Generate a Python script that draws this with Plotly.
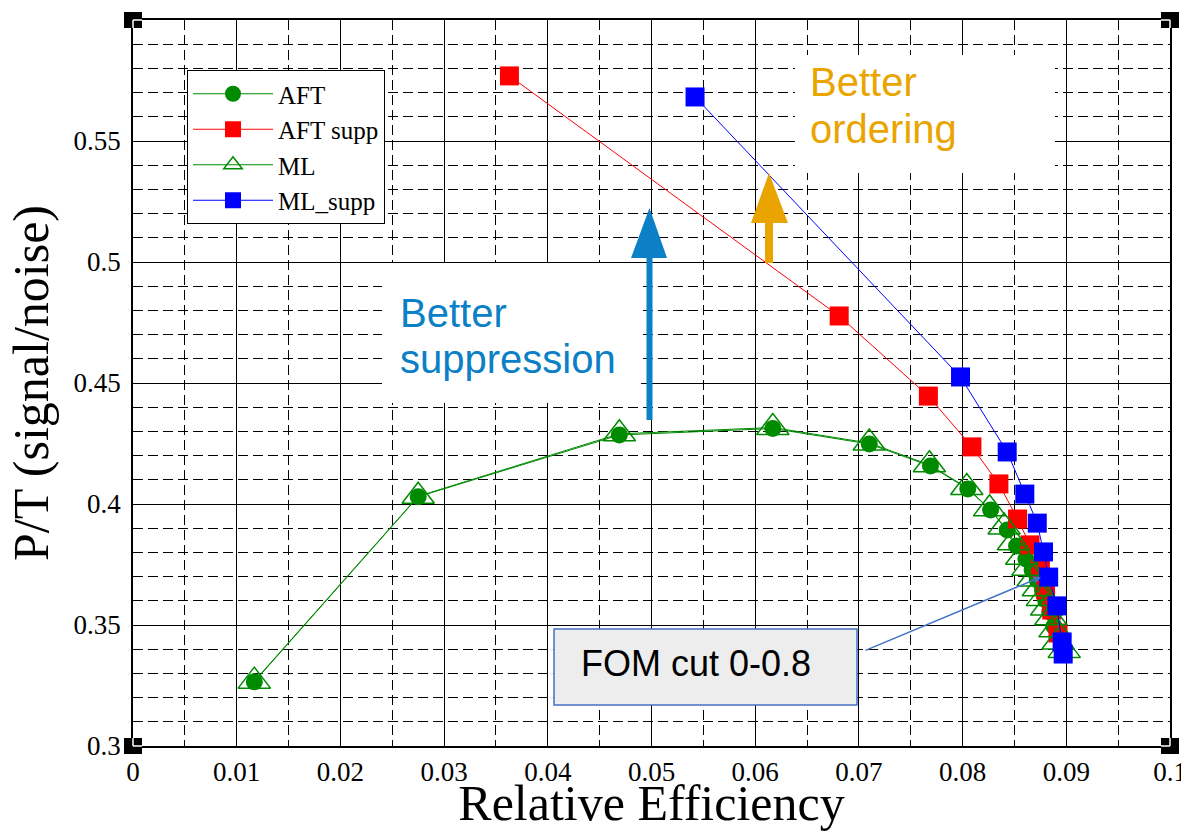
import plotly.graph_objects as go

# ---------------- data ----------------
aft_x = [0.0117, 0.0275, 0.0469, 0.0617, 0.0710, 0.0769, 0.0805, 0.0827, 0.0843,
         0.0852, 0.0861, 0.0867, 0.0872, 0.0877, 0.0880, 0.0884, 0.0888]
aft_y = [0.3265, 0.4030, 0.4285, 0.4312, 0.4248, 0.4157, 0.4062, 0.3975, 0.3893,
         0.3826, 0.3773, 0.3727, 0.3686, 0.3645, 0.3603, 0.3554, 0.3495]

aftsupp_x = [0.0363, 0.0681, 0.0767, 0.0809, 0.0835, 0.0853, 0.0865, 0.0875,
             0.0880, 0.0886, 0.0892]
aftsupp_y = [0.5769, 0.4777, 0.4446, 0.4236, 0.4083, 0.3938, 0.3831, 0.3736,
             0.3645, 0.3562, 0.3467]

ml_x = [0.0117, 0.0275, 0.0469, 0.0617, 0.0710, 0.0768, 0.0804, 0.0826, 0.0840,
        0.0849, 0.0857, 0.0863, 0.0868, 0.0873, 0.0877, 0.0881, 0.0885, 0.0889,
        0.0892, 0.0898]
ml_y = [0.3268, 0.4032, 0.4290, 0.4316, 0.4252, 0.4162, 0.4068, 0.3980, 0.3905,
        0.3840, 0.3780, 0.3735, 0.3690, 0.3650, 0.3610, 0.3570, 0.3530, 0.3480,
        0.3430, 0.3395]

mlsupp_x = [0.0542, 0.0798, 0.0843, 0.0860, 0.0872, 0.0878, 0.0883, 0.0891,
            0.0896, 0.0897]
mlsupp_y = [0.5682, 0.4525, 0.4215, 0.4041, 0.3921, 0.3802, 0.3698, 0.3579,
            0.3430, 0.3380]

x_ticks = [0.0, 0.01, 0.02, 0.03, 0.04, 0.05, 0.06, 0.07, 0.08, 0.09, 0.1]
x_ticktext = ["0", "0.01", "0.02", "0.03", "0.04", "0.05", "0.06", "0.07", "0.08", "0.09", "0.1"]
y_ticks = [0.3, 0.35, 0.4, 0.45, 0.5, 0.55, 0.6]
y_ticktext = ["0.3", "0.35", "0.4", "0.45", "0.5", "0.55", ""]

# ---------------- layout geometry ----------------
W, H = 1181, 831
ML_, MR_, MT_, MB_ = 133, 11, 20, 85
X0, X1 = 0.0, 0.1
Y0, Y1 = 0.3, 0.6
PW = W - ML_ - MR_
PH = H - MT_ - MB_


def dx(px):
    return X0 + (px - ML_) / PW * (X1 - X0)


def dy(py):
    return Y0 + (H - MB_ - py) / PH * (Y1 - Y0)


GREEN = "#008A00"
RED = "#FF0000"
BLUE = "#0000FF"
ORANGE = "#EAA400"
SKY = "#0B80C6"
SERIF = "Liberation Serif, Times New Roman, serif"
SANS = "Liberation Sans, Arial, sans-serif"

fig = go.Figure()
fig.add_trace(go.Scatter(x=aft_x, y=aft_y, mode="lines+markers", name="AFT",
                         line=dict(color=GREEN, width=1),
                         marker=dict(symbol="circle", size=17, color=GREEN)))
fig.add_trace(go.Scatter(x=aftsupp_x, y=aftsupp_y, mode="lines+markers", name="AFT supp",
                         line=dict(color=RED, width=1),
                         marker=dict(symbol="square", size=19, color=RED)))
fig.add_trace(go.Scatter(x=ml_x, y=ml_y, mode="lines+markers", name="ML",
                         line=dict(color=GREEN, width=1),
                         marker=dict(symbol="triangle-up-open", size=28, color=GREEN,
                                     line=dict(color=GREEN, width=1.5))))
fig.add_trace(go.Scatter(x=mlsupp_x, y=mlsupp_y, mode="lines+markers", name="ML_supp",
                         line=dict(color=BLUE, width=1),
                         marker=dict(symbol="square", size=19, color=BLUE)))

shapes = []
# white boxes behind the text labels (hide grid, under traces)
shapes.append(dict(type="rect", xref="x", yref="y", x0=dx(382), x1=dx(641), y0=dy(403), y1=dy(263),
                   fillcolor="white", line=dict(width=0), layer="between"))
shapes.append(dict(type="rect", xref="x", yref="y", x0=dx(795), x1=dx(1055), y0=dy(173), y1=dy(55),
                   fillcolor="white", line=dict(width=0), layer="between"))
# blue arrow
shapes.append(dict(type="rect", xref="x", yref="y", x0=dx(646.5), x1=dx(652.5), y0=dy(420), y1=dy(256),
                   fillcolor=SKY, line=dict(width=0), layer="above"))
shapes.append(dict(type="path", xref="x", yref="y",
                   path=f"M {dx(631)},{dy(258)} L {dx(667)},{dy(258)} L {dx(649.5)},{dy(208)} Z",
                   fillcolor=SKY, line=dict(width=0), layer="above"))
# orange arrow
shapes.append(dict(type="rect", xref="x", yref="y", x0=dx(765), x1=dx(773), y0=dy(263), y1=dy(221),
                   fillcolor=ORANGE, line=dict(width=0), layer="above"))
shapes.append(dict(type="path", xref="x", yref="y",
                   path=f"M {dx(751)},{dy(223)} L {dx(788)},{dy(223)} L {dx(769)},{dy(173)} Z",
                   fillcolor=ORANGE, line=dict(width=0), layer="above"))
# FOM box
shapes.append(dict(type="rect", xref="x", yref="y", x0=dx(554), x1=dx(857), y0=dy(705), y1=dy(629),
                   fillcolor="#EDEDED", line=dict(color="#4472C4", width=1.5), layer="above"))

# corner squares with white L
for cx, cy, sx, sy in [(0, 1, 1, -1), (1, 1, -1, -1), (0, 0, 1, 1), (1, 0, -1, 1)]:
    shapes.append(dict(type="rect", xref="paper", yref="paper", xsizemode="pixel", ysizemode="pixel",
                       xanchor=cx, yanchor=cy, x0=-9, x1=9, y0=-8, y1=8,
                       fillcolor="black", line=dict(width=0), layer="above"))
    shapes.append(dict(type="line", xref="paper", yref="paper", xsizemode="pixel", ysizemode="pixel",
                       xanchor=cx, yanchor=cy, x0=0, x1=9 * sx, y0=0, y1=0,
                       line=dict(color="white", width=1.5), layer="above"))
    shapes.append(dict(type="line", xref="paper", yref="paper", xsizemode="pixel", ysizemode="pixel",
                       xanchor=cx, yanchor=cy, x0=0, x1=0, y0=0, y1=8 * sy,
                       line=dict(color="white", width=1.5), layer="above"))

annotations = [
    dict(text="Better", x=dx(808), y=dy(58), xref="x", yref="y", xanchor="left", yanchor="top",
         showarrow=False, font=dict(family=SANS, size=40, color=ORANGE)),
    dict(text="ordering", x=dx(808), y=dy(105), xref="x", yref="y", xanchor="left", yanchor="top",
         showarrow=False, font=dict(family=SANS, size=40, color=ORANGE)),
    dict(text="Better", x=dx(398), y=dy(289), xref="x", yref="y", xanchor="left", yanchor="top",
         showarrow=False, font=dict(family=SANS, size=40, color=SKY)),
    dict(text="suppression", x=dx(398), y=dy(335), xref="x", yref="y", xanchor="left", yanchor="top",
         showarrow=False, font=dict(family=SANS, size=40, color=SKY)),
    dict(text="FOM cut 0-0.8", x=dx(579), y=dy(663), xref="x", yref="y", xanchor="left", yanchor="middle",
         showarrow=False, font=dict(family=SANS, size=36, color="black")),
    dict(text="", x=dx(1041), y=dy(577), ax=dx(864), ay=dy(651), axref="x", ayref="y",
         xref="x", yref="y", showarrow=True, arrowhead=2, arrowsize=1, arrowwidth=1.5,
         arrowcolor="#4472C4"),
]

grid_common = dict(gridcolor="black", gridwidth=1.2)

fig.update_layout(
    width=W, height=H,
    margin=dict(l=ML_, r=MR_, t=MT_, b=MB_, pad=0, autoexpand=False),
    paper_bgcolor="white", plot_bgcolor="white",
    showlegend=True,
    legend=dict(x=(187 - ML_) / PW, y=(H - MB_ - 70) / PH, xanchor="left", yanchor="top",
                bgcolor="white", bordercolor="black", borderwidth=1,
                font=dict(family=SERIF, size=25, color="black"),
                itemwidth=80, tracegroupgap=0),
    xaxis=dict(range=[X0, X1], tickmode="array", tickvals=x_ticks, ticktext=x_ticktext,
               automargin=False,
               showgrid=True, **grid_common,
               minor=dict(dtick=0.005, tick0=0, showgrid=True, gridcolor="black", gridwidth=1.2,
                          griddash="10px,5px"),
               showline=True, linecolor="black", linewidth=1.5, mirror=True,
               ticks="", zeroline=False, ticklabelstandoff=1, ticklabeloverflow="allow",
               tickfont=dict(family=SERIF, size=27, color="black"),
               title=dict(text="Relative Efficiency", standoff=4,
                          font=dict(family=SERIF, size=50, color="black"))),
    yaxis=dict(range=[Y0, Y1], tickmode="array", tickvals=y_ticks, ticktext=y_ticktext,
               automargin=False,
               showgrid=True, **grid_common,
               minor=dict(dtick=0.01, tick0=0.3, showgrid=True, gridcolor="black", gridwidth=1.2,
                          griddash="10px,5px"),
               showline=True, linecolor="black", linewidth=1.5, mirror=True,
               ticks="", zeroline=False, ticklabelstandoff=5,
               tickfont=dict(family=SERIF, size=27, color="black"),
               title=dict(text="P/T (signal/noise)", standoff=9,
                          font=dict(family=SERIF, size=50, color="black"))),
    shapes=shapes,
    annotations=annotations,
)

fig.write_html("out.html")
